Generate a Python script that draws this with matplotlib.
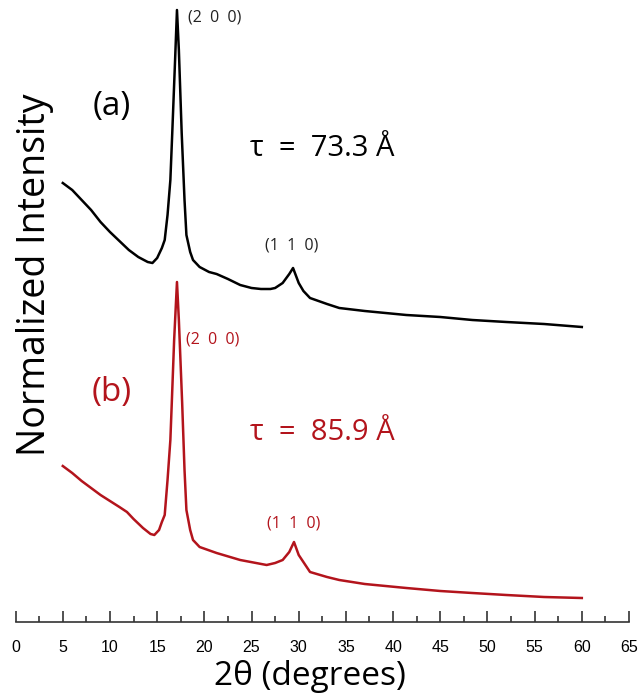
import matplotlib
matplotlib.use('Agg')
import matplotlib.pyplot as plt
from matplotlib.ticker import MultipleLocator

# XRD patterns (2theta in degrees, intensity in a.u., offset included)
theta_a = [5.0, 6, 7, 8, 9, 10, 11, 12, 13, 14, 14.5, 15.0, 15.5, 15.8, 16.1, 16.4,
           16.6, 16.9, 17.1, 17.3, 17.6, 17.9, 18.1, 18.5, 18.8, 19.5, 20.5, 21.3,
           22.5, 23.8, 25, 26, 27, 27.5, 28.3, 29.0, 29.4, 30.0, 30.5, 31.2, 33,
           34.3, 37, 41.4, 45, 48.4, 52, 56, 60]
int_a = [439, 432, 422, 412, 400, 390, 381, 372, 365, 360, 359, 364, 374, 382, 407, 442,
         489, 562, 612, 572, 489, 422, 387, 370, 362, 355, 350, 348,
         343, 337, 334, 333, 333, 334, 339, 348, 354, 339, 331, 324, 318,
         314, 311, 307, 305, 302, 300, 298, 295]

theta_b = [5.0, 6, 7, 8, 9, 10, 11, 11.8, 12.5, 13.5, 14.3, 14.7, 15.2, 15.5, 15.8,
           16.1, 16.4, 16.55, 16.8, 17.1, 17.3, 17.65, 17.9, 18.1, 18.5, 18.8, 19.5,
           21.3, 23.8, 26.6, 27.5, 28.3, 29.0, 29.5, 30.0, 31.2, 33, 34.3, 37, 41.4,
           45, 48.4, 52, 56, 60]
int_b = [156, 149, 141, 134, 127, 121, 115, 110, 103, 94, 88, 87, 92, 100, 107,
         142, 182, 219, 282, 340, 302, 219, 152, 112, 92, 82, 75,
         69, 62, 57, 59, 62, 70, 80, 67, 50, 45, 42, 38, 34,
         31, 29, 27, 25, 24]

red = '#b3141c'
label_font = ['Open Sans', 'DejaVu Sans']

fig = plt.figure(figsize=(6.41, 6.94), dpi=100)
ax = fig.add_axes([15.6 / 641, 72 / 694, (629 - 15.6) / 641, 622 / 694])

ax.plot(theta_a, int_a, color='black', linewidth=1.8)
ax.plot(theta_b, int_b, color=red, linewidth=1.8)

ax.set_xlim(0, 65)
ax.set_ylim(0, 622)

# peak labels and sample annotations
ax.text(18.3, 604, '(2  0  0)', fontsize=11.5, color='#222222', va='center', family=label_font)
ax.text(26.4, 376, '(1  1  0)', fontsize=11.5, color='#222222', va='center', family=label_font)
ax.text(18.1, 283, '(2  0  0)', fontsize=11.5, color=red, va='center', family=label_font)
ax.text(26.6, 99, '(1  1  0)', fontsize=11.5, color=red, va='center', family=label_font)

ax.text(10.2, 515, '(a)', fontsize=24, color='black', ha='center', va='center', family=label_font)
ax.text(10.2, 229, '(b)', fontsize=24, color=red, ha='center', va='center', family=label_font)
ax.text(24.8, 474, 'τ  =  73.3 Å', fontsize=21, color='black', va='center', family=label_font)
ax.text(24.8, 189, 'τ  =  85.9 Å', fontsize=21, color=red, va='center', family=label_font)

for side in ['top', 'right', 'left']:
    ax.spines[side].set_visible(False)
ax.spines['bottom'].set_linewidth(1.2)
ax.spines['bottom'].set_color('#333333')

ax.xaxis.set_major_locator(MultipleLocator(5))
ax.xaxis.set_minor_locator(MultipleLocator(2.5))
ax.tick_params(axis='x', which='major', direction='in', length=8, width=1.2,
               color='#333333', labelsize=11.5, pad=13)
ax.tick_params(axis='x', which='minor', direction='in', length=4, width=1.2, color='#333333')
for lbl in ax.get_xticklabels():
    lbl.set_family(['Liberation Sans', 'DejaVu Sans'])
ax.set_yticks([])

ax.set_xlabel('2θ (degrees)', fontsize=24, family=label_font)
ax.xaxis.set_label_coords(0.48, -0.087)
ax.xaxis.label.set_va('center')
ax.set_ylabel('Normalized Intensity', fontsize=27, family=label_font)
ax.yaxis.set_label_coords(0.0316, 0.558)
ax.yaxis.label.set_va('center')

plt.savefig('out.png', dpi=100)
